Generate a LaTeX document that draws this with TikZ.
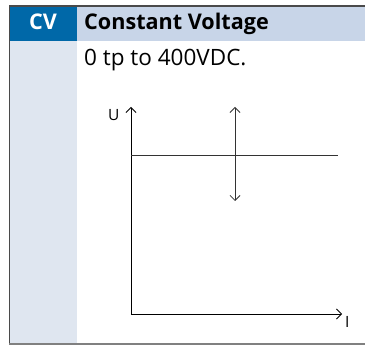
\documentclass[tikz,border=0pt]{standalone}
\usepackage{fontspec}
\setmainfont{Open Sans}
\usetikzlibrary{arrows.meta}
\definecolor{hdrdark}{HTML}{0068A8}
\definecolor{hdrlight}{HTML}{C8D5E8}
\definecolor{colbg}{HTML}{DFE6F0}
\definecolor{frame}{HTML}{4A4A4A}
\tikzset{
  axis/.style={black, line width=0.9pt, -{Straight Barb[length=5pt,width=10pt,line width=0.8pt]}},
  dbl/.style={black!80, line width=0.9pt, {Straight Barb[length=5pt,width=10pt,line width=0.8pt]}-{Straight Barb[length=5pt,width=10pt,line width=0.8pt]}},
  lbl/.style={inner sep=0pt, font=\fontsize{15.5}{18}\selectfont},
}
\begin{document}
\begin{tikzpicture}[x=1pt,y=-1pt]
\useasboundingbox (0,0) rectangle (365,345);
\fill[white] (0,0) rectangle (365,345);
% column and header
\fill[colbg] (9,41) rectangle (77,344);
\fill[hdrdark] (9,6) rectangle (77,41);
\fill[hdrlight] (77,6) rectangle (365,41);
\draw[frame, line width=2pt] (9,6) -- (365,6);
\draw[frame, line width=1pt] (9.5,6) -- (9.5,344);
\draw[gray, line width=1.2pt] (9,344) -- (365,344);
% header texts
\node[inner sep=0pt, anchor=base, text=white, font=\bfseries\fontsize{21.6}{25}\selectfont] (cv) at (43,29.5) {CV};
\node[inner sep=0pt, anchor=base west, font=\bfseries\fontsize{21.6}{25}\selectfont] (title) at (84,29.5) {Constant Voltage};
\node[inner sep=0pt, anchor=base west, font=\fontsize{22.5}{27}\selectfont] (range) at (84,66) {0 tp to 400VDC.};
% graph
\coordinate (o) at (131,314);
\coordinate (ytop) at (131,107);
\coordinate (xend) at (342,314);
\coordinate (h1) at (131,155);
\coordinate (h2) at (338,155);
\coordinate (a1) at (235,107);
\coordinate (a2) at (235,201);
\draw[axis] (o) -- (ytop);
\draw[axis] (o) -- (xend);
\draw[black!80, line width=0.9pt] (h1) -- (h2);
\draw[dbl] (a2) -- (a1);
\node[lbl, anchor=base west] (U) at (108,121) {U};
\node[lbl, anchor=base west] (I) at (345,327) {I};
\end{tikzpicture}
\end{document}
